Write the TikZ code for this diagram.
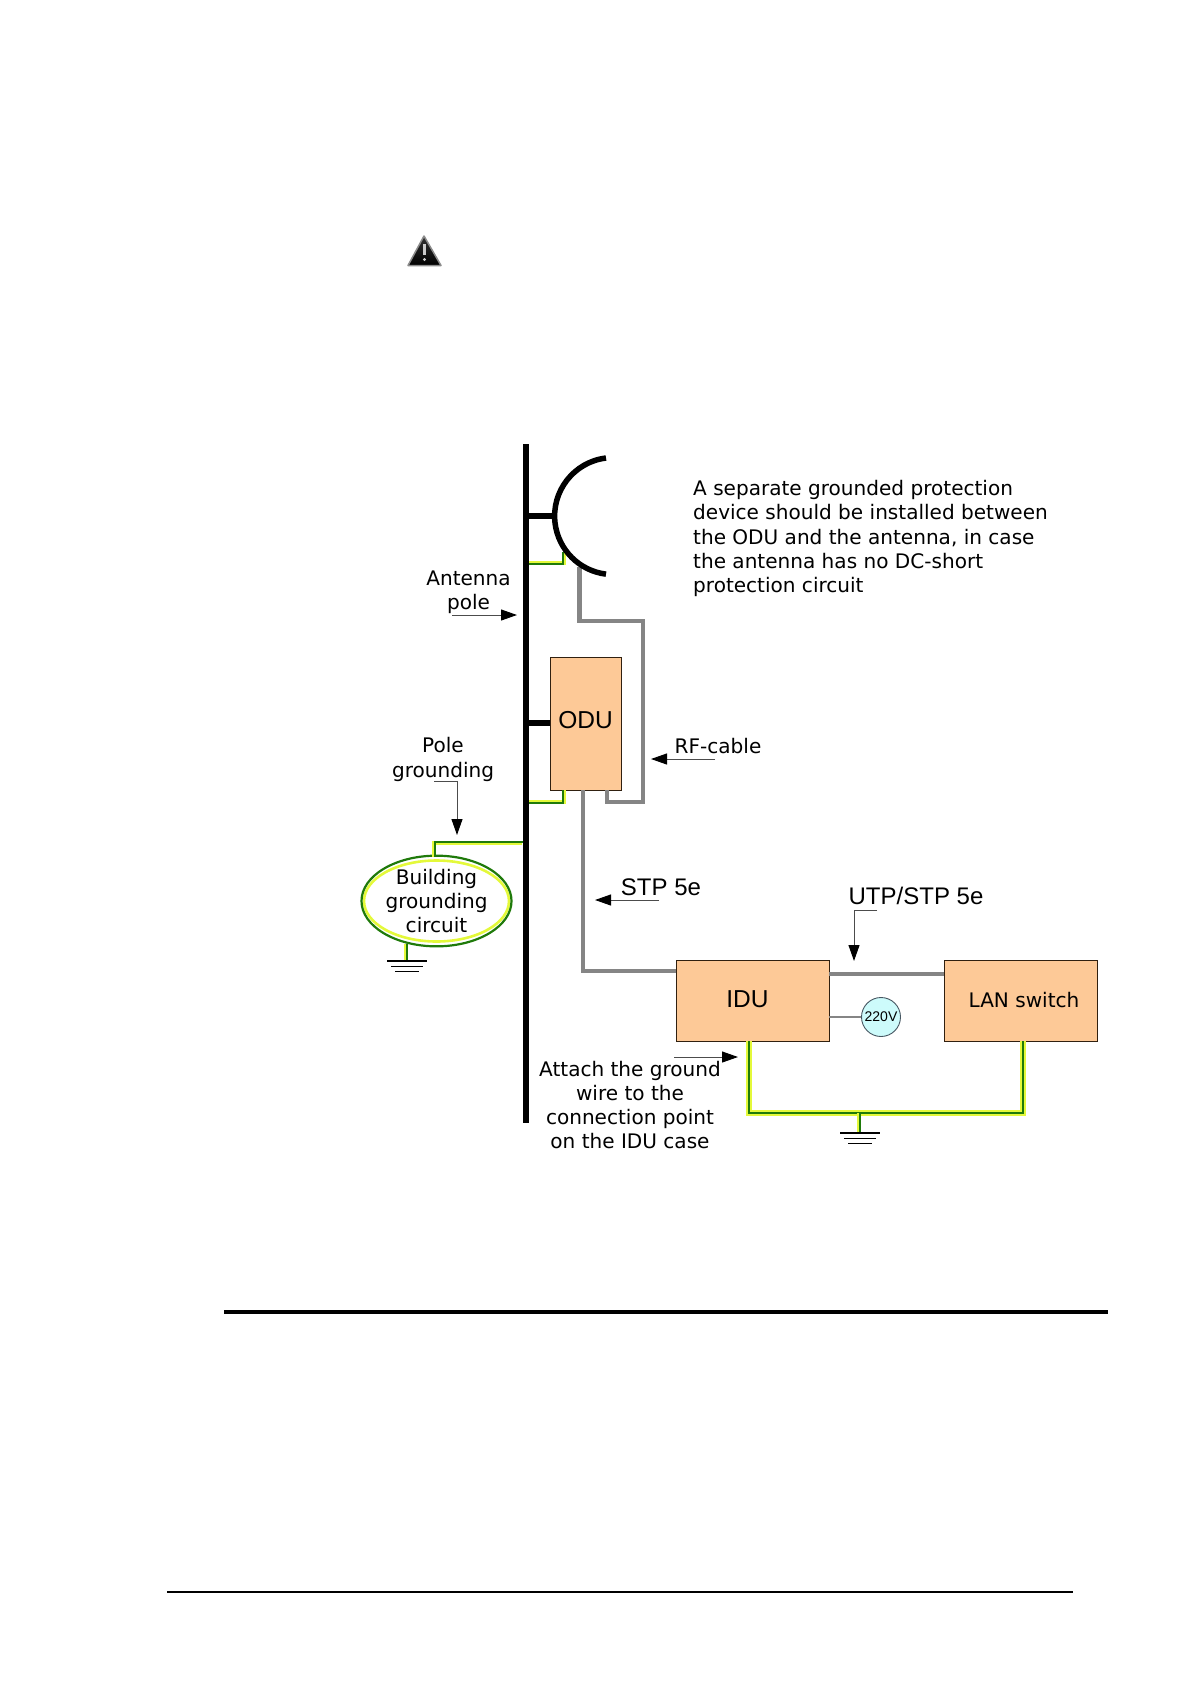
\documentclass[tikz,border=0pt]{standalone}
\usepackage{fontspec}
\setmainfont{DejaVu Sans}
\newfontfamily\arialfont{Liberation Sans}
\usetikzlibrary{positioning,calc,arrows.meta,shapes.geometric}
\definecolor{boxfill}{HTML}{FDC997}
\definecolor{cablegray}{HTML}{858585}
\definecolor{wiregreen}{HTML}{1F7A0A}
\definecolor{wirehalo}{HTML}{E4F93A}
\definecolor{mainsfill}{HTML}{CDFBFB}
\tikzset{
  lbl/.style={font=\fontsize{20.05}{24.3}\selectfont,align=center,inner sep=0pt},
  biglbl/.style={font=\arialfont\fontsize{24}{28}\selectfont,align=center,inner sep=0pt},
  unit/.style={draw=black!75!brown,line width=0.9pt,fill=boxfill,inner sep=0pt,align=center},
  cable/.style={draw=cablegray,line width=4.4pt,line join=miter},
  iron/.style={draw=black,line width=5.5pt},
  halo/.style={draw=wirehalo,line width=4.4pt},
  wire/.style={draw=wiregreen,line width=2pt},
  pointer/.style={draw=black!70,line width=1pt,-{Triangle[length=16pt,width=11pt,color=black]}},
  earth/.pic={
    \draw[line width=1.6pt] (-20,0) -- (20,0);
    \draw[line width=1.6pt] (-16,5.3) -- (16,5.3);
    \draw[line width=1.6pt] (-12,10.6) -- (12,10.6);
  }
}
\begin{document}
\begin{tikzpicture}[x=1pt,y=-1pt]
  \useasboundingbox (0,0) rectangle (1191,1684);

  \fill[top color=black!80,bottom color=black,draw=black!45,line width=1.5pt,line join=round]
    (424,236) -- (441,265.5) -- (408,265.5) -- cycle;
  \draw[white!80!black,line width=2.4pt] (424.5,244) -- (424.5,255);
  \fill[white!80!black] (424.5,259.5) circle (1.7pt);

  \coordinate (pole_t) at (526,444);
  \coordinate (pole_b) at (526,1123);
  \coordinate (arm_1) at (526,516);
  \coordinate (arm_2) at (526,723);
  \coordinate (dish_t) at (606,458);
  \coordinate (dish_l) at (556,516);
  \coordinate (dish_g) at (563,552);
  \coordinate (feed_t) at (579.5,567);
  \coordinate (feed_r) at (643,621);
  \coordinate (feed_b) at (643,802);
  \coordinate (tap_1) at (528,564);
  \coordinate (tap_2) at (528,803);
  \coordinate (tap_3) at (523,842);

  \node[unit,minimum width=71pt,minimum height=133pt,text depth=8pt,font=\arialfont\fontsize{24.5}{30}\selectfont]
    (odu) at (585.5,723.5) {ODU};
  \node[unit,minimum width=153pt,minimum height=81pt,text depth=3pt,font=\arialfont\fontsize{24.5}{30}\selectfont]
    (idu) at (752.5,1000.5) {IDU\hspace*{10pt}};
  \node[unit,minimum width=153pt,minimum height=81pt,lbl,text depth=2pt]
    (lan) at (1020.5,1000.5) {\hspace*{7pt}LAN switch};
  \node[draw=black!70!cyan,line width=0.9pt,fill=mainsfill,circle,minimum size=39pt,inner sep=0pt,
    font=\arialfont\fontsize{14}{16}\selectfont] (mains) at (881,1017) {220V};
  \node[ellipse,draw=wirehalo,line width=2.6pt,minimum width=145pt,minimum height=81pt,inner sep=0pt]
    (bldg_h) at (436.5,901) {};
  \node[ellipse,draw=wiregreen,line width=2.2pt,minimum width=150pt,minimum height=86pt,inner sep=0pt,lbl]
    (bldg) at (436.5,901) {Building\\grounding\\circuit};

  \coordinate (bldg_t) at (435,857);
  \coordinate (bldg_b) at (407,944);
  \coordinate (gnd_1) at (407,961);
  \coordinate (gnd_2) at (860,1133);
  \coordinate (bus_l) at (749,1113);
  \coordinate (bus_m) at (860,1113);
  \coordinate (bus_r) at (1023,1113);

  \path[halo] ([xshift=1pt,yshift=1pt]tap_1) -| ([xshift=1pt]dish_g);
  \path[wire] (tap_1) -| (dish_g);
  \path[halo] ([xshift=1pt,yshift=1pt]tap_2) -| ([xshift=1pt]odu.south -| dish_g);
  \path[wire] (tap_2) -| (odu.south -| dish_g);
  \path[halo] ([xshift=-1pt,yshift=-1pt]tap_3) -| ([xshift=-1pt]bldg_t);
  \path[wire] (tap_3) -| (bldg_t);
  \path[halo] ([xshift=-1pt]bldg_b) -- ([xshift=-1pt]gnd_1);
  \path[wire] (bldg_b) -- (gnd_1);
  \path[halo,line width=5.6pt] (idu.south -| bus_l) |- (bus_m) -| (lan.south -| bus_r);
  \path[wire] (idu.south -| bus_l) |- (bus_m) -| (lan.south -| bus_r);
  \path[halo] ([xshift=-1pt]bus_m) -- ([xshift=-1pt]gnd_2);
  \path[wire] (bus_m) -- (gnd_2);
  \pic at (gnd_1) {earth};
  \pic at (gnd_2) {earth};

  \path[cable] (feed_t) |- (feed_r) -- (feed_b) -| (odu.south -| 607,0);
  \path[cable] (odu.south -| 583,0) |- (idu.west |- 0,971);
  \path[cable] (idu.east |- 0,974) -- (lan.west |- 0,974);
  \draw[cablegray,line width=1.6pt] (idu.east |- mains) -- (mains);

  \draw[iron,line width=6.4pt] (pole_t) -- (pole_b);
  \draw[iron] (arm_1) -- (dish_l);
  \draw[iron] (arm_2) -- (odu.west |- arm_2);
  \draw[iron] (dish_t) arc[start angle=97,end angle=263,radius=58.5pt];

  \node[lbl] (ant_lbl) at (468.5,592) {Antenna\\pole};
  \node[lbl] (pole_lbl) at (443,759.5) {Pole\\grounding};
  \node[lbl] (rf_lbl) at (718,746) {RF-cable};
  \node[biglbl] (stp_lbl) at (661,887) {STP 5e};
  \node[biglbl] (utp_lbl) at (916,896) {UTP/STP 5e};
  \node[lbl] (att_lbl) at (630,1105) {Attach the ground\\wire to the\\connection point\\on the IDU case};
  \node[lbl,align=left,anchor=north west] (sep_lbl) at (693,480)
    {A separate grounded protection\\device should be installed between\\the ODU and the antenna, in case\\the antenna has no DC-short\\protection circuit};

  \coordinate (ant_a) at (452,615);
  \coordinate (ant_b) at (517,615);
  \coordinate (pg_a) at (434,781);
  \coordinate (pg_b) at (457,835);
  \coordinate (rf_a) at (715,759);
  \coordinate (rf_b) at (651,759);
  \coordinate (stp_a) at (659,900);
  \coordinate (stp_b) at (595,900);
  \coordinate (utp_a) at (877,910);
  \coordinate (utp_b) at (854,961);
  \coordinate (att_a) at (674,1057);
  \coordinate (att_b) at (738,1057);
  \path[pointer] (ant_a) -- (ant_b);
  \path[pointer] (pg_a) -| (pg_b);
  \path[pointer] (rf_a) -- (rf_b);
  \path[pointer] (stp_a) -- (stp_b);
  \path[pointer] (utp_a) -| (utp_b);
  \path[pointer] (att_a) -- (att_b);

  \coordinate (rule_a) at (224,1312);
  \coordinate (rule_b) at (1108,1312);
  \coordinate (foot_a) at (167,1592);
  \coordinate (foot_b) at (1073,1592);
  \draw[line width=3.2pt] (rule_a) -- (rule_b);
  \draw[line width=1.1pt] (foot_a) -- (foot_b);
\end{tikzpicture}
\end{document}
